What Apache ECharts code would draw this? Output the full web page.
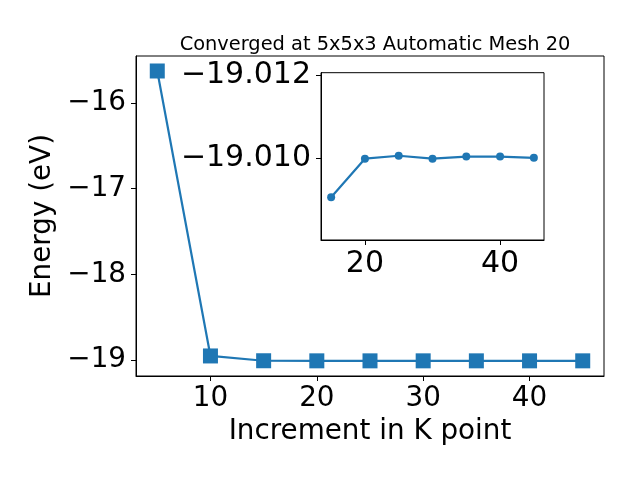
<!DOCTYPE html>
<html>
<head>
<meta charset="utf-8">
<script src="https://cdn.jsdelivr.net/npm/echarts@6/dist/echarts.min.js"></script>
<style>html,body{margin:0;padding:0;background:#fff}#c{width:640px;height:480px}</style>
</head>
<body>
<div id="c"></div>
<script>
// Main series
const kPoints = [5, 10, 15, 20, 25, 30, 35, 40, 45];
const energies = [-15.627, -18.953, -19.009, -19.0100, -19.01007, -19.0100, -19.01005, -19.01005, -19.01002];
// Inset series
const insetK = [15, 20, 25, 30, 35, 40, 45];
const insetE = [-19.00908, -19.0100, -19.01007, -19.0100, -19.01005, -19.01005, -19.01002];
// Tick labels
const mainXTicks = [10, 20, 30, 40];
const mainYTicks = [-19, -18, -17, -16];
const insetXTicks = [20, 40];
const insetYTicks = [-19.012, -19.010];

const FONT = 'DejaVu Sans';
const COLOR = '#1f77b4';
const minus = s => String(s).replace(/-/g, '\u2212');

const chart = echarts.init(document.getElementById('c'), null, {renderer: 'canvas'});
const axisCommon = {
  axisLine: {show: true, onZero: false, lineStyle: {color: '#000', width: 1}},
  axisTick: {show: true, inside: false, length: 5, lineStyle: {color: '#000', width: 1}},
  splitLine: {show: false}
};
chart.setOption({
  animation: false,
  backgroundColor: '#fff',
  title: {
    text: 'Converged at 5x5x3 Automatic Mesh 20',
    left: 370, top: 30, textAlign: 'center',
    textStyle: {fontFamily: FONT, fontSize: 19.4, fontWeight: 'normal', color: '#000'}
  },
  grid: [
    {left: 136, top: 56, right: 36, bottom: 104, show: true, borderColor: '#000', borderWidth: 1, backgroundColor: '#fff', containLabel: false},
    {left: 321, top: 72.7, right: 96, bottom: 240, show: true, borderColor: '#000', borderWidth: 1, backgroundColor: '#fff', containLabel: false, z: 10}
  ],
  xAxis: [
    Object.assign({}, axisCommon, {
      type: 'value', gridIndex: 0, min: 3, max: 47,
      name: 'Increment in K point', nameLocation: 'middle', nameGap: 42,
      nameTextStyle: {fontFamily: FONT, fontSize: 27.8, color: '#000'},
      axisTick: Object.assign({}, axisCommon.axisTick, {customValues: mainXTicks}),
      axisLabel: {customValues: mainXTicks, fontFamily: FONT, fontSize: 27.8, color: '#000', margin: 9, formatter: v => minus(v)}
    }),
    Object.assign({}, axisCommon, {
      type: 'value', gridIndex: 1, min: 13.5, max: 46.5, z: 10,
      axisTick: Object.assign({}, axisCommon.axisTick, {customValues: insetXTicks}),
      axisLabel: {customValues: insetXTicks, fontFamily: FONT, fontSize: 30, color: '#000', margin: 9, formatter: v => minus(v)}
    })
  ],
  yAxis: [
    Object.assign({}, axisCommon, {
      type: 'value', gridIndex: 0, min: -19.187, max: -15.452,
      name: 'Energy (eV)', nameLocation: 'middle', nameGap: 77,
      nameTextStyle: {fontFamily: FONT, fontSize: 27.8, color: '#000'},
      axisTick: Object.assign({}, axisCommon.axisTick, {customValues: mainYTicks}),
      axisLabel: {customValues: mainYTicks, fontFamily: FONT, fontSize: 27.8, color: '#000', margin: 10, formatter: v => minus(v)}
    }),
    Object.assign({}, axisCommon, {
      type: 'value', gridIndex: 1, inverse: true, min: -19.01205, max: -19.00806, z: 10,
      axisTick: Object.assign({}, axisCommon.axisTick, {customValues: insetYTicks}),
      axisLabel: {customValues: insetYTicks, fontFamily: FONT, fontSize: 30, color: '#000', margin: 10, formatter: v => minus(v.toFixed(3))}
    })
  ],
  series: [
    {
      type: 'line', xAxisIndex: 0, yAxisIndex: 0,
      data: kPoints.map((k, i) => [k, energies[i]]),
      symbol: 'rect', symbolSize: 15,
      lineStyle: {color: COLOR, width: 2.2},
      itemStyle: {color: COLOR, borderColor: COLOR, borderWidth: 0},
      z: 2
    },
    {
      type: 'line', xAxisIndex: 1, yAxisIndex: 1,
      data: insetK.map((k, i) => [k, insetE[i]]),
      symbol: 'circle', symbolSize: 8,
      lineStyle: {color: COLOR, width: 2.2},
      itemStyle: {color: COLOR, borderWidth: 0},
      z: 12
    }
  ]
});
</script>
</body>
</html>
